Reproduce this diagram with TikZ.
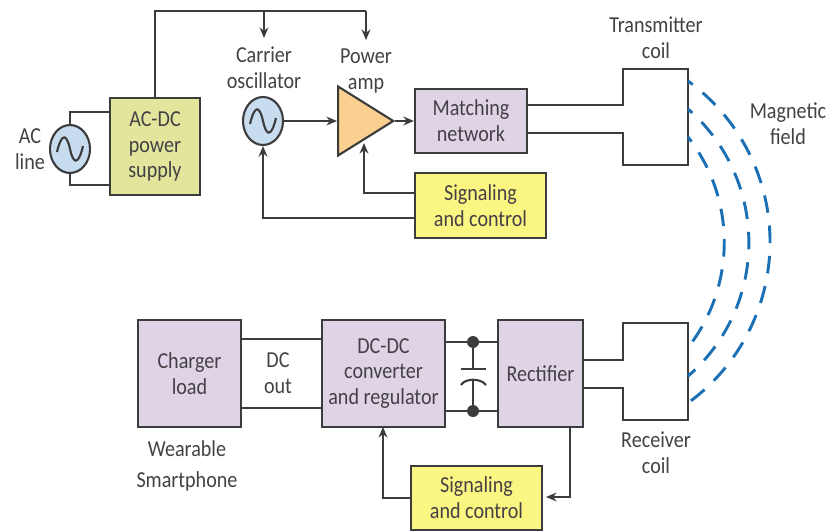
\documentclass[tikz,border=0pt]{standalone}
\usepackage{fontspec}
\setmainfont[FakeStretch=0.88]{Carlito}
\usetikzlibrary{shapes.geometric,arrows.meta}
\definecolor{wirecol}{HTML}{3C3C3C}
\definecolor{textcol}{HTML}{454045}
\definecolor{lavender}{HTML}{DFD3E6}
\definecolor{signalyellow}{HTML}{FBF582}
\definecolor{supplygreen}{HTML}{E1E69C}
\definecolor{sourceblue}{HTML}{C8DCF0}
\definecolor{amporange}{HTML}{FBCF90}
\definecolor{fieldblue}{HTML}{1B6FB5}
\def\px{0.03cm}
\tikzset{
  label/.style={text=textcol,align=center,font=\fontsize{19.5}{22}\selectfont},
  box/.style={label,draw=wirecol,line width=1.8pt,inner sep=0pt},
  source/.style={draw=wirecol,line width=1.8pt,fill=sourceblue,ellipse,inner sep=0pt,
    minimum width=40*\px,minimum height=48*\px},
  wire/.style={draw=wirecol,line width=1.8pt},
  feed/.style={wire,-{Stealth[length=9pt,width=7.5pt]}},
  field/.style={draw=fieldblue,line width=2.5pt,dash pattern=on 15pt off 11pt,dash phase=10pt}
}
\begin{document}
\begin{tikzpicture}[x=\px,y=-\px]
  \useasboundingbox (0,0) rectangle (830,531);
  % top row
  \node[source] (acline) at (70,149) {};
  \node[source] (carosc) at (263,121) {};
  \node[box,fill=supplygreen,minimum width=90*\px,minimum height=97*\px] (acdc) at (155,146.5) {AC-DC\\power\\supply};
  \node[box,fill=lavender,minimum width=112*\px,minimum height=64*\px] (match) at (471,121) {Matching\\network};
  \node[box,fill=signalyellow,minimum width=131*\px,minimum height=65*\px] (txsig) at (480.5,205.5) {Signaling\\and control};
  \node[draw=wirecol,line width=1.8pt,fill=amporange,isosceles triangle,isosceles triangle apex angle=64,
    inner sep=0pt,minimum height=54*\px,minimum width=69*\px,anchor=west] (amp) at (337,121) {};
  \node[minimum width=65*\px,minimum height=96*\px,inner sep=0pt] (txcoil) at (655.5,117) {};
  % bottom row
  \node[box,fill=lavender,minimum width=103*\px,minimum height=107*\px] (charger) at (189.5,373.5) {Charger\\load};
  \node[box,fill=lavender,minimum width=123*\px,minimum height=107*\px] (dcdc) at (383.5,373.5) {DC-DC\\converter\\and regulator};
  \node[box,fill=lavender,minimum width=85*\px,minimum height=107*\px] (rect) at (540.5,373.5) {Rectifier};
  \node[box,fill=signalyellow,minimum width=131*\px,minimum height=64*\px] (rxsig) at (476.5,498) {Signaling\\and control};
  \node[minimum width=65*\px,minimum height=97*\px,inner sep=0pt] (rxcoil) at (655.5,371.5) {};
  % labels
  \node[label] (aclabel) at (30,149) {AC\\line};
  \node[label] (osclabel) at (264,68) {Carrier\\oscillator};
  \node[label] (amplabel) at (366,71) {Power\\amp};
  \node[label] (txlabel) at (656,38) {Transmitter\\coil};
  \node[label] (fieldlabel) at (788,124) {Magnetic\\field};
  \node[label] (dclabel) at (278,373) {DC\\out};
  \node[label] (rxlabel) at (656,453) {Receiver\\coil};
  \node[label] (wearlabel) at (187,449) {Wearable};
  \node[label] (phonelabel) at (187,481) {Smartphone};
  % sine signs
  \foreach \src in {acline,carosc}
    \draw[wirecol,line width=1.8pt,shift={(\src.center)}] (-13,3) .. controls (-8,-18) and (-3,-14) .. (0,0) .. controls (3,14) and (8,18) .. (13,-3);
  % power wiring
  \coordinate (railleft) at (acdc.north |- 0,11);
  \coordinate (railmid) at (264,11);
  \coordinate (railright) at (366,11);
  \draw[wire] (acdc.north) -- (railleft) -- (railright);
  \draw[feed] (railmid) -- (264,38);
  \draw[feed] (railright) -- (366,40);
  \draw[wire] (acline.north) |- (acdc.west |- 0,112);
  \draw[wire] (acline.south) |- (acdc.west |- 0,185);
  % signal path
  \draw[feed] (carosc.east) -- (amp.west |- carosc.east);
  \draw[feed] (amp.apex) -- (match.west |- amp.apex);
  \draw[feed] (txsig.west |- 0,193) -| (364,143);
  \draw[feed] (txsig.west |- 0,218) -| (carosc.south);
  % transmitter coil
  \draw[wire] (match.east |- 0,105) -- (txcoil.west |- 0,105) |- (txcoil.north east) -- (txcoil.south east) -- (txcoil.south west) -- (txcoil.west |- 0,133) -- (match.east |- 0,133);
  % receiver side
  \draw[wire] (rect.east |- 0,360) -- (rxcoil.west |- 0,360) |- (rxcoil.north east) -- (rxcoil.south east) -- (rxcoil.south west) -- (rxcoil.west |- 0,388) -- (rect.east |- 0,388);
  \draw[wire] (charger.east |- 0,339) -- (dcdc.west |- 0,339);
  \draw[wire] (charger.east |- 0,408) -- (dcdc.west |- 0,408);
  \coordinate (captop) at (473,342);
  \coordinate (capbot) at (473,411);
  \draw[wire] (dcdc.east |- captop) -- (rect.west |- captop);
  \draw[wire] (dcdc.east |- capbot) -- (rect.west |- capbot);
  \fill[wirecol] (captop) circle (6);
  \fill[wirecol] (capbot) circle (6);
  \draw[wire] (captop) -- (473,369);
  \draw[wire] (461,369) -- (486,369);
  \draw[wire] (461,385) .. controls (465,378) and (481,378) .. (486,385);
  \draw[wire] (473,380) -- (capbot);
  \draw[feed] (rxsig.west) -| (383,427);
  \draw[feed] (570,427) |- (546,497);
  % field lines
  \draw[field] (688,81) arc[start angle=-54,end angle=54,radius=199];
  \draw[field] (688,109) arc[start angle=-49,end angle=49,radius=177];
  \draw[field] (688,137) arc[start angle=-38,end angle=38,radius=171];
\end{tikzpicture}
\end{document}
